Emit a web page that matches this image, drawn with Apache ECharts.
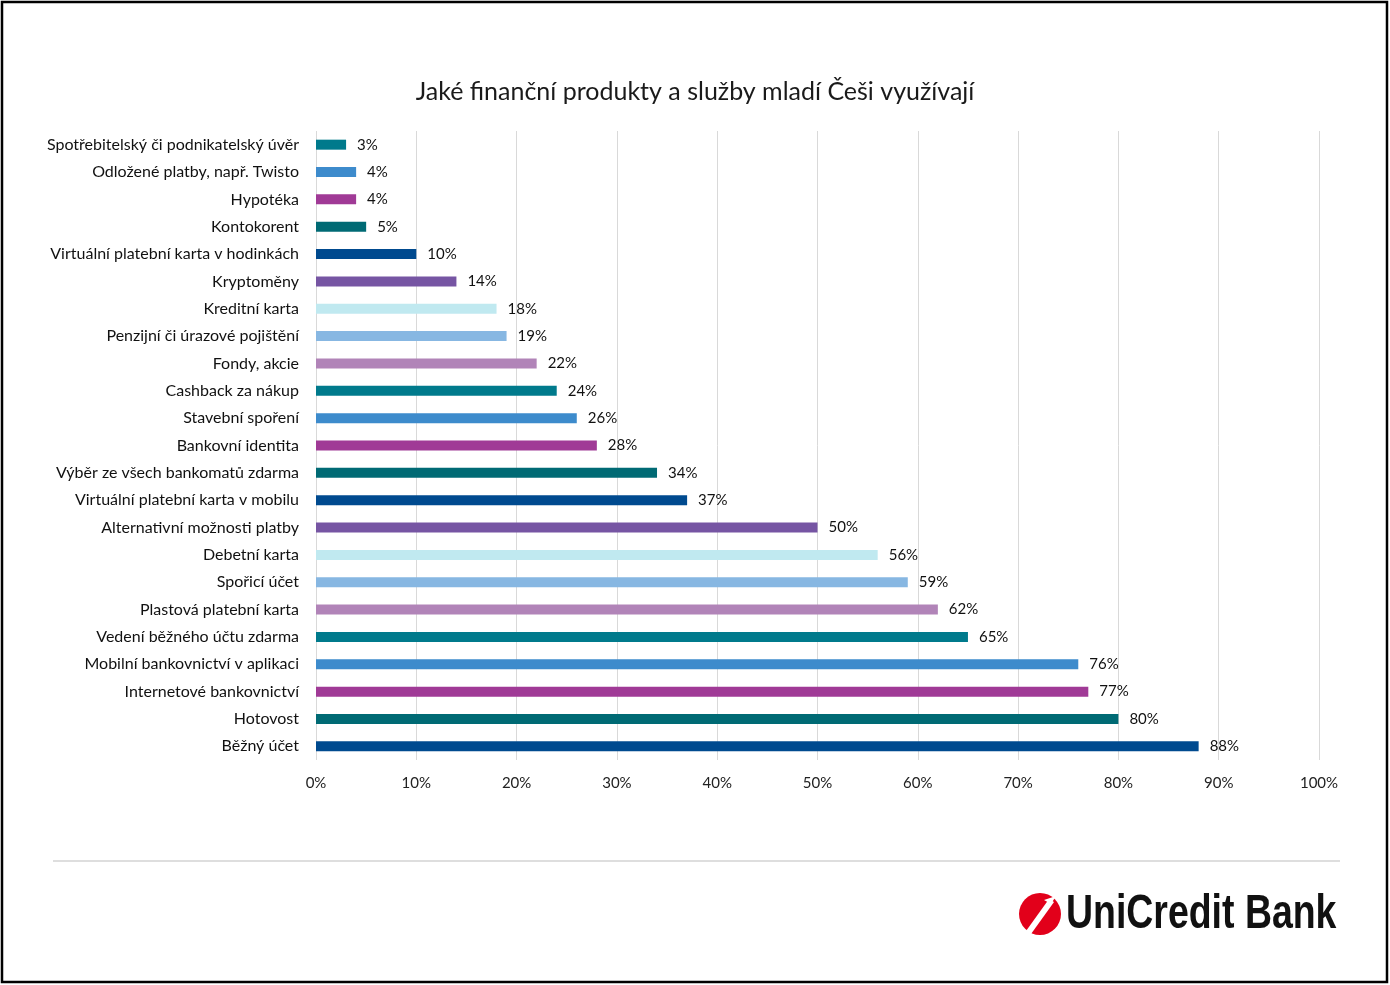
<!DOCTYPE html>
<html>
<head>
<meta charset="utf-8">
<script src="https://cdn.jsdelivr.net/npm/echarts@6/dist/echarts.min.js"></script>
<style>
  html, body { margin: 0; padding: 0; background: #fff; }
  #main { width: 1390px; height: 985px; }
</style>
</head>
<body>
<div id="main"></div>
<script>
// kategorie shora dolů, jak jsou v grafu
const categories = [
  'Spotřebitelský či podnikatelský úvěr',
  'Odložené platby, např. Twisto',
  'Hypotéka',
  'Kontokorent',
  'Virtuální platební karta v hodinkách',
  'Kryptoměny',
  'Kreditní karta',
  'Penzijní či úrazové pojištění',
  'Fondy, akcie',
  'Cashback za nákup',
  'Stavební spoření',
  'Bankovní identita',
  'Výběr ze všech bankomatů zdarma',
  'Virtuální platební karta v mobilu',
  'Alternativní možnosti platby',
  'Debetní karta',
  'Spořicí účet',
  'Plastová platební karta',
  'Vedení běžného účtu zdarma',
  'Mobilní bankovnictví v aplikaci',
  'Internetové bankovnictví',
  'Hotovost',
  'Běžný účet'
];
const values = [3, 4, 4, 5, 10, 14, 18, 19, 22, 24, 26, 28, 34, 37, 50, 56, 59, 62, 65, 76, 77, 80, 88];
const barColors = [
  '#007a8c', '#3d8bcc', '#a03a96', '#006a74', '#004a8f', '#7655a3', '#c0e9f0', '#87b7e2', '#b184b8',
  '#007a8c', '#3d8bcc', '#a03a96', '#006a74', '#004a8f', '#7655a3', '#c0e9f0', '#87b7e2', '#b184b8',
  '#007a8c', '#3d8bcc', '#a03a96', '#006a74', '#004a8f'
];
const xTicks = [0, 10, 20, 30, 40, 50, 60, 70, 80, 90, 100];

const font = 'Lato, "Open Sans", sans-serif';
const chart = echarts.init(document.getElementById('main'));

chart.setOption({
  backgroundColor: '#fff',
  animation: false,
  title: {
    text: 'Jaké finanční produkty a služby mladí Češi využívají',
    left: 'center',
    top: 74,
    textStyle: { fontFamily: font, fontSize: 25, fontWeight: 'normal', color: '#1a1a1a' }
  },
  grid: { left: 316, right: 71, top: 131, height: 629, containLabel: false },
  xAxis: {
    type: 'value',
    min: xTicks[0],
    max: xTicks[xTicks.length - 1],
    interval: 10,
    axisLine: { show: false },
    axisTick: { show: false },
    splitLine: { show: true, lineStyle: { color: '#d9d9d9', width: 1 } },
    axisLabel: { formatter: '{value}%', fontFamily: font, fontSize: 15, color: '#222', margin: 16 }
  },
  yAxis: {
    type: 'category',
    data: categories,
    inverse: true,
    axisLine: { show: false },
    axisTick: { show: false },
    axisLabel: { fontFamily: font, fontSize: 16, color: '#111', margin: 17 }
  },
  series: [{
    type: 'bar',
    data: values.map((v, i) => ({ value: v, itemStyle: { color: barColors[i] } })),
    barWidth: 10,
    label: {
      show: true,
      position: 'right',
      distance: 11,
      formatter: '{c}%',
      fontFamily: font,
      fontSize: 15,
      color: '#111'
    }
  }],
  graphic: [
    { type: 'rect', shape: { x: 2, y: 2, width: 1385, height: 980 },
      style: { fill: 'none', stroke: '#000', lineWidth: 2.5 }, silent: true },
    { type: 'line', shape: { x1: 53, y1: 861, x2: 1340, y2: 861 },
      style: { stroke: '#dedede', lineWidth: 2 } },
    { type: 'circle', shape: { cx: 1040, cy: 914, r: 21 }, style: { fill: '#e2001a' } },
    { type: 'polygon', shape: { points: [[1026, 931], [1031, 934], [1054, 902], [1049, 899]] },
      style: { fill: '#fff' } },
    { type: 'polygon', shape: { points: [[1044, 900], [1056, 896], [1051, 904]] },
      style: { fill: '#fff' } },
    { type: 'text', x: 1066, y: 915, scaleX: 0.78,
      style: { text: 'UniCredit Bank', fontFamily: '"Liberation Sans", Arial, sans-serif',
               fontSize: 48, fontWeight: 'bold', fill: '#111', textVerticalAlign: 'middle' } }
  ]
});
</script>
</body>
</html>
